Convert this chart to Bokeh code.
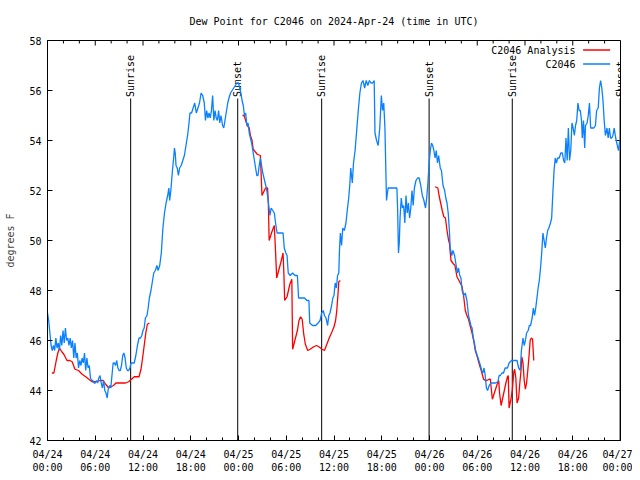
import math
from datetime import datetime, timedelta
from bokeh.plotting import figure
from bokeh.models import FixedTicker, DatetimeTickFormatter, Range1d, Label, Arrow
from bokeh.core.properties import value
from bokeh.embed import file_html
from bokeh.resources import INLINE

NAN = float("nan")
START = datetime(2024, 4, 24)

# ---- data (hours after 2024-04-24 00:00 UTC, dew point in F) ----
obs_hours = [0.0, 0.15, 0.3, 0.45, 0.6, 0.75, 0.9, 1.05, 1.2, 1.35, 1.5, 1.65, 1.8, 1.95, 2.1, 2.25, 2.4, 2.55, 2.7, 2.85,
             3.0, 3.15, 3.3, 3.45, 3.6, 3.75, 3.9, 4.05, 4.2, 4.35, 4.5, 4.65, 4.8, 4.95, 5.1, 5.25, 5.4, 5.55, 5.7, 5.85,
             6.0, 6.15, 6.3, 6.45, 6.6, 6.75, 6.9, 7.05, 7.2, 7.35, 7.5, 7.65, 7.8, 7.95, 8.1, 8.25, 8.4, 8.55, 8.7, 8.85,
             9.0, 9.15, 9.3, 9.45, 9.6, 9.75, 9.9, 10.05, 10.2, 10.35, 10.5, 10.7, 10.9, 11.1, 11.3, 11.5, 11.7, 11.85, 12.0, 12.15,
             12.3, 12.5, 12.65, 12.8, 13.0, 13.15, 13.35, 13.55, 13.75, 13.9, 14.1, 14.3, 14.5, 14.7, 14.9, 15.1, 15.25, 15.35, 15.5, 15.7,
             15.85, 15.95, 16.05, 16.15, 16.3, 16.45, 16.6, 16.8, 17.0, 17.2, 17.4, 17.6, 17.75, 17.9, 18.1, 18.3, 18.5, 18.7, 18.9, 19.1,
             19.3, 19.5, 19.7, 19.85, 20.0, 20.15, 20.3, 20.45, 20.6, 20.75, 20.9, 21.05, 21.2, 21.35, 21.5, 21.65, 21.8, 22.0, 22.15, 22.3,
             22.45, 22.65, 22.8, 23.0, 23.2, 23.4, 23.6, 23.8, 24.0, 24.15, 24.3, 24.45, 24.6, 24.75, 24.9, 25.05, 25.2, 25.35, 25.5, 25.65,
             25.8, 26.0, 26.15, 26.3, 26.45, 26.6, 26.75, 26.9, 27.05, 27.2, 27.35, 27.5, 27.65, 27.8, 27.95, 28.1, 28.3, 28.5, 28.7, 28.85,
             29.0, 29.3, 29.6, 29.75, 29.95, 30.1, 30.25, 30.5, 30.8, 31.1, 31.4, 31.55, 31.9, 32.3, 32.6, 32.85, 32.95, 33.3, 33.7, 34.0,
             34.25, 34.45, 34.65, 34.8, 35.0, 35.2, 35.35, 35.5, 35.7, 35.85, 36.0, 36.15, 36.3, 36.45, 36.6, 36.7, 36.8, 36.95, 37.1, 37.3,
             37.5, 37.7, 37.85, 38.0, 38.1, 38.3, 38.45, 38.65, 38.85, 39.05, 39.25, 39.45, 39.65, 39.85, 40.05, 40.25, 40.45, 40.65, 40.85, 41.05,
             41.15, 41.35, 41.55, 41.75, 41.95, 42.1, 42.25, 42.4, 42.5, 42.6, 42.8, 43.2, 43.6, 43.9, 44.0, 44.1, 44.2, 44.3, 44.45, 44.6,
             44.75, 44.9, 45.05, 45.2, 45.35, 45.5, 45.65, 45.8, 45.95, 46.1, 46.3, 46.5, 46.7, 46.9, 47.1, 47.3, 47.5, 47.65, 47.8, 47.95,
             48.1, 48.25, 48.4, 48.55, 48.7, 48.85, 49.0, 49.15, 49.35, 49.5, 49.7, 49.9, 50.05, 50.2, 50.35, 50.5, 50.6, 50.8, 50.95, 51.15,
             51.3, 51.5, 51.65, 51.8, 51.95, 52.1, 52.3, 52.5, 52.7, 52.9, 53.05, 53.2, 53.35, 53.5, 53.65, 53.8, 54.0, 54.2, 54.4, 54.55,
             54.7, 54.85, 55.0, 55.15, 55.3, 55.5, 55.7, 56.0, 56.3, 56.6, 56.75, 56.9, 57.1, 57.3, 57.5, 57.8, 58.0, 58.3, 58.6, 59.0,
             59.2, 59.4, 59.55, 59.75, 59.9, 60.05, 60.2, 60.4, 60.55, 60.7, 60.9, 61.05, 61.2, 61.35, 61.5, 61.65, 61.8, 61.95, 62.1, 62.25,
             62.4, 62.55, 62.7, 62.85, 63.0, 63.2, 63.35, 63.5, 63.65, 63.8, 63.95, 64.1, 64.3, 64.5, 64.7, 64.85, 65.0, 65.15, 65.3, 65.45,
             65.6, 65.75, 65.9, 66.05, 66.2, 66.35, 66.5, 66.65, 66.8, 66.95, 67.1, 67.2, 67.35, 67.5, 67.6, 67.8, 67.95, 68.1, 68.25, 68.45,
             68.65, 68.85, 69.0, 69.2, 69.35, 69.5, 69.65, 69.8, 69.95, 70.1, 70.3, 70.45, 70.6, 70.75, 70.9, 71.05, 71.2, 71.4, 71.6, 71.75, 71.9]
obs_values = [47.1, 46.8, 46.3, 45.8, 45.6, 45.8, 45.6, 46.1, 45.7, 45.9, 45.6, 46.2, 45.8, 46.4, 45.9, 46.5, 46.0, 46.1, 45.8, 46.1,
              45.7, 46.0, 45.3, 45.9, 45.3, 45.5, 44.9, 45.2, 45.0, 45.3, 45.1, 45.5, 44.8, 45.3, 44.9, 45.0, 44.5, 44.4, 44.4, 44.3,
              44.3, 44.4, 44.3, 44.5, 44.6, 44.3, 44.1, 44.4, 44.0, 43.9, 43.7, 44.1, 44.2, 44.1, 44.6, 45.1, 45.1, 45.0, 45.2, 44.9,
              44.8, 44.8, 45.0, 45.4, 45.5, 45.3, 44.9, 44.8, 44.8, 44.9, 45.1, 45.1, 45.1, 45.4, 45.8, 46.1, 46.1, 46.2, 46.4, 46.5,
              46.9, 47.0, 47.3, 47.7, 48.0, 48.3, 48.7, 48.8, 49.0, 48.8, 49.0, 49.5, 50.5, 51.1, 51.5, 51.8, 52.1, 51.6, 52.0, 52.8,
              53.3, 53.7, 53.5, 53.0, 52.9, 52.6, 52.9, 53.0, 53.2, 53.4, 53.8, 54.2, 54.6, 55.1, 55.1, 55.3, 55.5, 55.1, 55.3, 55.5,
              55.9, 55.8, 55.5, 54.8, 55.2, 54.9, 55.1, 54.9, 55.2, 55.8, 54.8, 55.2, 54.9, 54.8, 55.2, 54.7, 55.0, 54.6, 54.5, 54.8,
              55.1, 55.5, 55.7, 55.9, 56.0, 56.1, 56.2, 56.3, 56.3, 56.1, 55.9, 55.6, 55.4, 55.0, 55.1, 54.6, 54.7, 54.3, 54.1, 53.9,
              53.6, 53.2, 52.9, 52.6, 52.6, 53.0, 53.3, 53.0, 52.7, 52.5, 52.3, 52.1, 51.8, 51.4, 51.0, 51.3, 51.2, 51.1, 50.6, 50.3,
              50.3, 50.3, 50.3, 49.7, 49.5, 49.4, 48.7, 48.6, 48.7, 48.6, 48.6, 47.7, 47.7, 47.7, 47.6, 47.6, 46.7, 46.6, 46.6, 46.7,
              46.8, 47.1, 47.2, 47.0, 46.9, 46.6, 47.0, 47.1, 47.4, 47.7, 47.8, 48.3, 48.1, 48.6, 48.7, 49.7, 50.3, 49.8, 50.5, 50.4,
              50.7, 51.3, 51.7, 52.3, 52.9, 52.3, 53.1, 53.6, 54.4, 55.2, 55.9, 56.3, 56.4, 56.1, 56.4, 56.2, 56.4, 56.3, 56.3, 56.4,
              54.3, 54.0, 53.8, 54.5, 55.8, 55.2, 55.5, 54.5, 53.0, 51.6, 52.1, 52.1, 52.1, 52.1, 51.2, 49.5, 49.9, 50.9, 51.7, 51.3,
              51.4, 50.7, 51.8, 51.1, 51.5, 50.9, 51.3, 52.0, 51.4, 52.1, 52.4, 52.5, 52.5, 52.2, 51.8, 51.6, 51.3, 51.7, 52.3, 53.1,
              53.6, 53.9, 53.8, 53.6, 53.3, 53.6, 53.1, 53.4, 52.9, 52.8, 52.2, 52.0, 51.7, 51.5, 51.1, 50.4, 49.7, 49.4, 49.6, 49.4,
              49.1, 48.7, 48.9, 48.6, 48.5, 48.0, 47.8, 47.9, 47.6, 47.0, 46.8, 46.6, 46.5, 46.1, 45.9, 45.6, 45.4, 45.2, 45.0, 44.8,
              44.7, 44.9, 44.6, 44.1, 44.0, 44.2, 44.3, 44.3, 44.3, 44.35, 44.6, 44.6, 44.7, 44.7, 44.9, 44.9, 45.1, 45.2, 45.2, 45.2,
              44.9, 44.8, 45.6, 46.1, 45.8, 46.0, 46.3, 46.4, 46.6, 46.6, 46.9, 47.3, 47.0, 47.3, 47.7, 48.1, 48.4, 48.9, 49.5, 50.3,
              50.0, 49.7, 50.1, 50.4, 50.5, 50.7, 50.9, 51.9, 52.8, 53.3, 53.1, 53.3, 53.3, 53.5, 53.5, 53.2, 53.1, 54.1, 53.2, 54.5,
              53.2, 53.6, 54.7, 54.5, 54.2, 54.6, 54.8, 55.5, 55.2, 55.2, 54.8, 54.1, 54.8, 53.7, 54.6, 54.7, 55.0, 55.5, 54.5, 54.5,
              54.5, 54.6, 55.2, 55.3, 56.1, 56.4, 56.1, 55.6, 54.8, 54.2, 54.5, 54.1, 54.5, 54.1, 54.1, 54.2, 54.5, 54.1, 53.8, 53.6, 54.0]

ana_hours = [0.55, 0.8, 1.1, 1.3, 1.5, 1.8, 2.05, 2.45, 2.8, 3.1, 3.45, 3.9, 4.35, 4.8, 5.2, 5.6, 6.1, 6.6, 7.0, 7.3,
             7.7, 8.0, 8.3, 8.6, 9.2, 9.8, 10.2, 10.55, 10.9, 11.5, 11.75, 11.95, 12.15, 12.35, 12.55, 12.8,
             18.0,
             24.5, 24.7, 24.9, 25.1, 25.35, 25.5, 25.7, 25.85, 26.35, 26.75, 26.85, 26.95, 27.4, 27.65, 27.75, 27.85, 28.2, 28.5, 28.65,
             28.8, 29.3, 29.6, 29.7, 29.8, 30.1, 30.45, 30.7, 30.8, 31.0, 31.4, 31.6, 31.8, 32.0, 32.2, 32.4, 32.7, 33.0, 33.45, 33.8,
             34.1, 34.5, 34.8, 35.1, 35.4, 35.75, 36.0, 36.2, 36.35, 36.5, 36.6, 36.8,
             42.0,
             48.7, 49.05, 49.2, 49.4, 49.6, 49.8, 50.0, 50.2, 50.4, 50.5, 50.7, 51.0, 51.2, 51.45, 51.7, 52.1, 52.3, 52.5, 52.7, 52.9,
             53.1, 53.35, 53.55, 53.75, 54.0, 54.3, 54.5, 54.8, 55.0, 55.2, 55.5, 55.65, 55.75, 55.9, 56.1, 56.3, 56.5, 56.7, 56.8, 57.0,
             57.2, 57.4, 57.6, 57.8, 57.9, 58.0, 58.2, 58.4, 58.6, 58.7, 58.85, 59.0, 59.2, 59.35, 59.5, 59.6, 59.75, 59.9, 60.05, 60.2,
             60.35, 60.5, 60.65, 60.8, 60.95, 61.1]
ana_values = [44.7, 44.7, 45.2, 45.5, 45.7, 45.55, 45.45, 45.2, 45.2, 45.15, 44.85, 44.8, 44.65, 44.55, 44.45, 44.35, 44.35, 44.4, 44.4, 44.25,
              44.1, 44.15, 44.2, 44.3, 44.3, 44.3, 44.35, 44.45, 44.55, 44.55, 44.85, 45.3, 45.8, 46.3, 46.65, 46.7,
              NAN,
              55.0, 55.0, 54.8, 54.6, 54.5, 54.2, 54.0, 53.65, 53.45, 53.4, 52.6, 51.8, 52.1, 52.1, 51.5, 50.0, 50.35, 50.6, 49.6,
              48.5, 49.1, 49.5, 48.7, 47.6, 47.75, 48.25, 48.45, 45.65, 45.9, 46.4, 46.8, 46.95, 46.85, 46.25, 45.85, 45.6, 45.65, 45.75, 45.8,
              45.75, 45.65, 45.6, 45.85, 46.1, 46.35, 46.55, 46.8, 47.2, 47.85, 48.35, 48.4,
              NAN,
              52.15, 52.1, 51.8, 51.5, 51.2, 50.95, 50.9, 50.4, 50.0, 49.9, 49.2, 49.07, 49.0, 48.55, 48.4, 48.15, 47.75, 47.2, 47.0, 46.85,
              46.6, 46.3, 46.0, 45.6, 45.35, 45.0, 44.8, 44.45, 44.4, 44.4, 44.45, 44.45, 44.1, 43.65, 43.85, 44.05, 44.25, 44.4, 43.9, 43.4,
              43.7, 44.0, 44.3, 44.55, 44.6, 43.3, 43.6, 44.0, 44.75, 44.85, 44.5, 43.5, 43.7, 44.3, 44.8, 45.35, 45.1, 44.4, 44.05, 44.3,
              44.8, 45.35, 46.0, 46.1, 46.05, 45.2]

sun_hours = [10.45, 23.9, 34.45, 47.95, 58.4, 71.95]
sun_names = ["Sunrise", "Sunset", "Sunrise", "Sunset", "Sunrise", "Sunset"]

x_tick_hours = [0, 6, 12, 18, 24, 30, 36, 42, 48, 54, 60, 66, 72]
x_minor_hours = [2, 4, 8, 10, 14, 16, 20, 22, 26, 28, 32, 34, 38, 40, 44, 46, 50, 52, 56, 58, 62, 64, 68, 70]
y_ticks = [42, 44, 46, 48, 50, 52, 54, 56, 58]

series_names = ["C2046 Analysis", "C2046"]
series_colors = ["#ff0000", "#0a80ff"]

TITLE = "Dew Point for C2046 on 2024-Apr-24 (time in UTC)"
Y_LABEL = "degrees F"
FONT = "DejaVu Sans Mono"
FS = "10px"

X_MIN_H, X_MAX_H = 0, 72
Y_MIN, Y_MAX = 42, 58
MAJOR_LEN, MINOR_LEN = 5, 3


def to_dt(hours):
    return [START + timedelta(hours=h) for h in hours]


def to_ms(hours):
    return [(START + timedelta(hours=h) - datetime(1970, 1, 1)).total_seconds() * 1000.0 for h in hours]


W, H = 632, 476
FRAME_W, FRAME_H = 573, 400
p = figure(width=W, height=H, x_axis_type="datetime",
           x_range=Range1d(to_ms([X_MIN_H])[0], to_ms([X_MAX_H])[0]), y_range=Range1d(Y_MIN, Y_MAX),
           output_backend="svg", toolbar_location=None,
           min_border_left=47, min_border_right=W - 47 - FRAME_W,
           min_border_top=40, min_border_bottom=H - 40 - FRAME_H)

p.title.text = TITLE
p.title.align = "center"
p.title.text_font = FONT
p.title.text_font_size = FS
p.title.text_font_style = "normal"
p.title.text_color = "black"
p.title.standoff = 27

p.grid.visible = False
p.outline_line_color = "black"
p.outline_line_width = 1
p.background_fill_color = "white"
p.border_fill_color = "white"

xt = FixedTicker(ticks=to_ms(x_tick_hours), minor_ticks=to_ms(x_minor_hours))
fmt = DatetimeTickFormatter(hours="%m/%d\n%H:%M", days="%m/%d\n%H:%M", hourmin="%m/%d\n%H:%M",
                            minutes="%m/%d\n%H:%M", months="%m/%d\n%H:%M")
yt = FixedTicker(ticks=y_ticks, minor_ticks=[])

xa = p.xaxis[0]
xa.ticker = xt
xa.formatter = fmt
ya = p.yaxis[0]
ya.ticker = yt
ya.axis_label = Y_LABEL

for ax in (xa, ya):
    ax.major_tick_in = MAJOR_LEN
    ax.major_tick_out = 0
    ax.minor_tick_in = MINOR_LEN
    ax.minor_tick_out = 0
    ax.major_label_text_font = FONT
    ax.major_label_text_font_size = FS
    ax.major_label_text_color = "black"
    ax.axis_line_color = "black"
    ax.major_tick_line_color = "black"
    ax.minor_tick_line_color = "black"
    ax.axis_label_text_font = FONT
    ax.axis_label_text_font_size = FS
    ax.axis_label_text_font_style = "normal"
xa.major_label_standoff = 8
ya.major_label_standoff = 6
ya.axis_label_standoff = 10

# mirrored tick marks on the top and right edges (gnuplot style)
dy_major = MAJOR_LEN * (Y_MAX - Y_MIN) / FRAME_H
dy_minor = MINOR_LEN * (Y_MAX - Y_MIN) / FRAME_H
dx_major = MAJOR_LEN * (X_MAX_H - X_MIN_H) / FRAME_W
p.segment(x0=to_dt(x_tick_hours), y0=[Y_MAX] * len(x_tick_hours),
          x1=to_dt(x_tick_hours), y1=[Y_MAX - dy_major] * len(x_tick_hours), line_color="black", line_width=1)
p.segment(x0=to_dt(x_minor_hours), y0=[Y_MAX] * len(x_minor_hours),
          x1=to_dt(x_minor_hours), y1=[Y_MAX - dy_minor] * len(x_minor_hours), line_color="black", line_width=1)
p.segment(x0=to_dt([X_MAX_H] * len(y_ticks)), y0=y_ticks,
          x1=to_dt([X_MAX_H - dx_major] * len(y_ticks)), y1=y_ticks, line_color="black", line_width=1)

# sunrise / sunset markers
line_top = 55.68
p.segment(x0=to_dt(sun_hours), y0=[Y_MIN] * len(sun_hours), x1=to_dt(sun_hours), y1=[line_top] * len(sun_hours),
          line_color="black", line_width=1)
p.text(x=to_dt(sun_hours), y=[line_top + 0.06] * len(sun_hours), text=sun_names, angle=math.pi / 2,
       text_align="left", text_baseline="middle", text_font=value(FONT), text_font_size=FS, text_color="black")

# data lines
p.line(to_dt(ana_hours), ana_values, line_color=series_colors[0], line_width=1.3)
p.line(to_dt(obs_hours), obs_values, line_color=series_colors[1], line_width=1.3)

# gnuplot-style key (text, then sample line)
key_text_h = 66.35
key_line_h = (67.3, 70.7)
key_y = [57.62, 57.06]
for name, col, ky in zip(series_names, series_colors, key_y):
    p.add_layout(Label(x=to_ms([key_text_h])[0], y=ky, text=name, text_align="right", text_baseline="middle",
                       text_font=FONT, text_font_size=FS, text_color="black"))
    p.add_layout(Arrow(end=None, start=None, x_start=to_ms([key_line_h[0]])[0], y_start=ky,
                       x_end=to_ms([key_line_h[1]])[0], y_end=ky, line_color=col, line_width=1.3))

open("out.html", "w").write(file_html(p, INLINE))
